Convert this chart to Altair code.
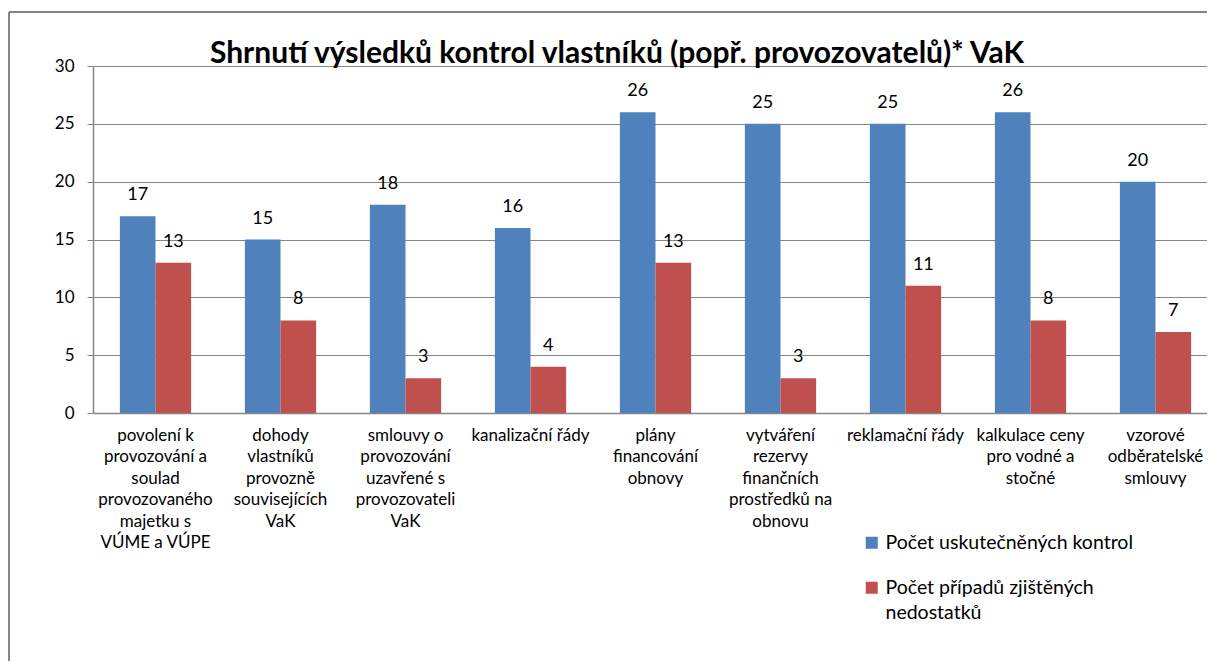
import altair as alt
import pandas as pd

categories = [
    "povolení k\nprovozování a\nsoulad\nprovozovaného\nmajetku s\nVÚME a VÚPE",
    "dohody\nvlastníků\nprovozně\nsouvisejících\nVaK",
    "smlouvy o\nprovozování\nuzavřené s\nprovozovateli\nVaK",
    "kanalizační řády",
    "plány\nfinancování\nobnovy",
    "vytváření\nrezervy\nfinančních\nprostředků na\nobnovu",
    "reklamační řády",
    "kalkulace ceny\npro vodné a\nstočné",
    "vzorové\nodběratelské\nsmlouvy",
]
series = ["Počet uskutečněných kontrol", "Počet případů zjištěných nedostatků"]
controls = [17, 15, 18, 16, 26, 25, 25, 26, 20]
defects = [13, 8, 3, 4, 13, 3, 11, 8, 7]
title_text = "Shrnutí výsledků kontrol vlastníků (popř. provozovatelů)* VaK"
colors = ["#4F81BD", "#C0504D"]

rows = []
for i, c in enumerate(categories):
    rows.append({"cat": c, "series": series[0], "value": controls[i]})
    rows.append({"cat": c, "series": series[1], "value": defects[i]})
df = pd.DataFrame(rows)

FONT = "Lato"
GRAY = "#868686"
W, H = 1114, 347

x_enc = alt.X(
    "cat:N",
    sort=categories,
    scale=alt.Scale(range=[0, 1125], paddingInner=0.43, paddingOuter=0.215),
    axis=alt.Axis(
        title=None, labelAngle=0, ticks=False, labelPadding=14,
        labelExpr="split(datum.value, '\\n')", labelFont=FONT, labelFontSize=17,
        labelColor="black", labelLineHeight=21.5, labelLimit=300,
        domainColor=GRAY, domainWidth=1.5, grid=False,
    ),
)
xoff = alt.XOffset("series:N", sort=series, scale=alt.Scale(paddingInner=0, paddingOuter=0))
y_enc = alt.Y(
    "value:Q",
    scale=alt.Scale(domain=[0, 30], nice=False),
    axis=alt.Axis(
        title=None, values=[0, 5, 10, 15, 20, 25, 30], labelFont=FONT,
        labelFontSize=17, labelColor="black", labelPadding=13, tickSize=6,
        tickColor=GRAY, domainColor=GRAY, domainWidth=1.5, gridColor=GRAY,
        gridWidth=1.2,
    ),
)

base = alt.Chart(df)

bars = base.mark_bar().encode(
    x=x_enc,
    xOffset=xoff,
    y=y_enc,
    color=alt.Color(
        "series:N",
        sort=series,
        scale=alt.Scale(domain=series, range=colors),
        legend=alt.Legend(
            title=None, orient="none", legendX=769, legendY=467,
            symbolType="square", symbolSize=144, symbolStrokeWidth=0,
            labelFont=FONT, labelFontSize=19.5, labelColor="black",
            labelLimit=400, rowPadding=24, padding=0, symbolOffset=0,
            labelOffset=4,
            labelExpr="datum.value == 'Počet případů zjištěných nedostatků' ? ['Počet případů zjištěných', 'nedostatků'] : datum.value",
        ),
    ),
)

labels = base.mark_text(
    font=FONT, fontSize=18, color="black", baseline="alphabetic", dy=-16
).encode(
    x=alt.X("cat:N", sort=categories),
    xOffset=xoff,
    y="value:Q",
    text="value:Q",
)

title = alt.Chart(pd.DataFrame({"t": [title_text]})).mark_text(
    font=FONT, fontSize=30, fontWeight="bold", color="black",
    align="center", baseline="alphabetic",
).encode(x=alt.value(524), y=alt.value(-3), text="t:N")

frame_top = alt.Chart(pd.DataFrame({"t": [0]})).mark_rule(
    color=GRAY, strokeWidth=2
).encode(x=alt.value(-84), x2=alt.value(W + 10), y=alt.value(-54))
frame_left = alt.Chart(pd.DataFrame({"t": [0]})).mark_rule(
    color=GRAY, strokeWidth=2
).encode(x=alt.value(-84), y=alt.value(-54), y2=alt.value(H + 260))

chart = alt.layer(bars, labels, title, frame_top, frame_left).properties(
    width=W, height=H,
    autosize=alt.AutoSizeParams(type="none"),
    padding={"left": 85, "top": 58, "right": 0, "bottom": 248},
).configure_view(stroke=None).configure(
    background="white", style={"guide-label": {"lineHeight": 25}}
)

chart.save("out.html", embed_options={"renderer": "svg", "actions": False})
